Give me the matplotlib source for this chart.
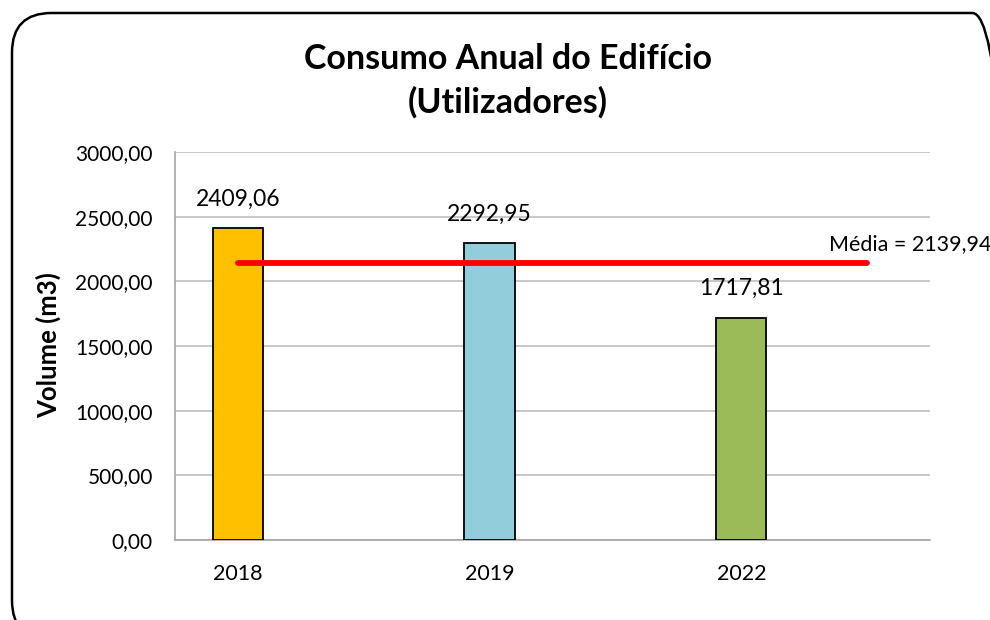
import matplotlib.pyplot as plt
from matplotlib.patches import FancyBboxPatch

plt.rcParams['font.family'] = ['Lato', 'DejaVu Sans']

anos = ['2018', '2019', '2022']
volumes = [2409.06, 2292.95, 1717.81]
cores = ['#FFC000', '#92CDDC', '#9BBB59']
media = 2139.94
yticks = [0, 500, 1000, 1500, 2000, 2500, 3000]


def fmt(v):
    return f'{v:.2f}'.replace('.', ',')


fig = plt.figure(figsize=(9.9, 6.2), dpi=100)

# moldura arredondada (estilo excel)
frame = FancyBboxPatch((12 / 990, -20 / 620), 1000 / 990, 627 / 620,
                       boxstyle='round,pad=0,rounding_size=0.04',
                       transform=fig.transFigure, fill=False,
                       edgecolor='black', linewidth=1.8, mutation_aspect=990 / 620)
fig.patches.append(frame)

ax = fig.add_axes([175 / 990, 80 / 620, 755 / 990, 388 / 620])

x = range(len(anos))
ax.bar(x, volumes, width=0.2, color=cores, edgecolor='black', linewidth=1.3, zorder=3)
for i, v in enumerate(volumes):
    ax.annotate(fmt(v), (i, v), xytext=(0, 29), textcoords='offset pixels',
                ha='center', va='center', fontsize=16.5)

# linha da média
ax.plot([0, 2.5], [media, media], color='red', linewidth=4.2, solid_capstyle='round', zorder=4)
ax.annotate('Média = ' + fmt(media), (2.5, media), xytext=(-38, 19),
            textcoords='offset pixels', ha='left', va='center',
            fontsize=15.5, annotation_clip=False)

ax.set_xlim(-0.25, 2.75)
ax.set_ylim(0, 3000)
ax.set_xticks(list(x))
ax.set_xticklabels(anos, fontsize=15.5)
ax.set_yticks(yticks)
ax.set_yticklabels([fmt(t) for t in yticks], fontsize=15)
ax.tick_params(length=0)
ax.tick_params(axis='x', pad=17)
ax.tick_params(axis='y', pad=16)
ax.grid(axis='y', color='#BFBFBF', linewidth=1.2, zorder=0)
for s in ['top', 'right']:
    ax.spines[s].set_visible(False)
for s in ['left', 'bottom']:
    ax.spines[s].set_color('#A6A6A6')
    ax.spines[s].set_linewidth(1.2)

fig.text(48 / 990, 1 - 345 / 620, 'Volume (m3)', rotation=90, ha='center', va='center',
         fontsize=18.5, fontweight='bold')

fig.text(508 / 990, 1 - 81 / 620, 'Consumo Anual do Edifício\n(Utilizadores)',
         ha='center', va='center', fontsize=24.5, fontweight='bold', linespacing=1.4)

fig.savefig('out.png', dpi=100)
